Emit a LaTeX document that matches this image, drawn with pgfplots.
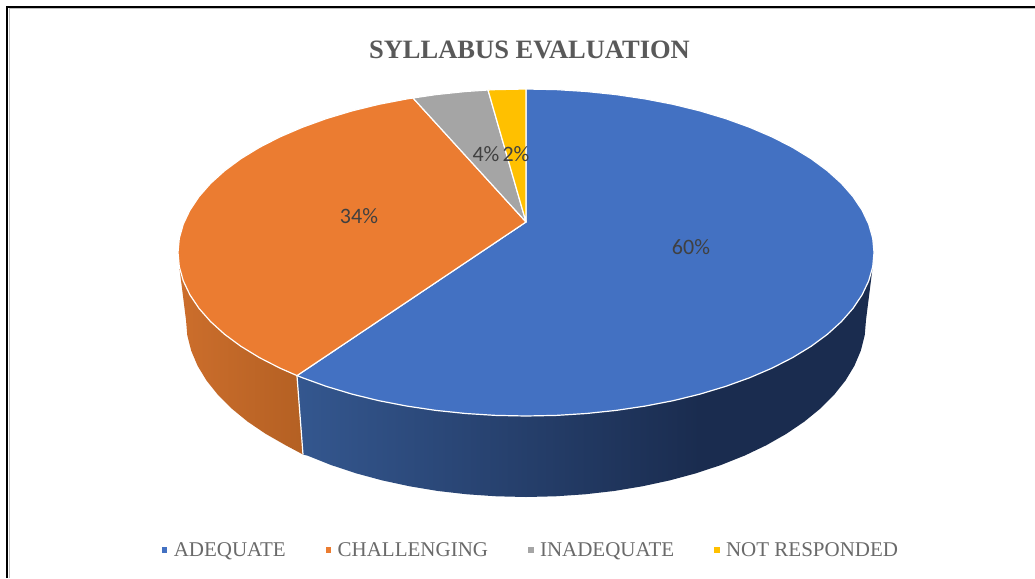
\documentclass[border=0pt]{standalone}
\usepackage{fontspec}
\setmainfont{Liberation Serif}
\newfontfamily\calibri{Carlito}
\usepackage{pgfplots}
\pgfplotsset{compat=1.18}
\definecolor{pieblue}{HTML}{4371C2}
\definecolor{pieorange}{HTML}{EB7C31}
\definecolor{piegray}{HTML}{A5A5A5}
\definecolor{piegold}{HTML}{FFC000}
\definecolor{wallblueA}{HTML}{34578F}
\definecolor{wallblueB}{HTML}{1A2C4F}
\definecolor{wallorangeA}{HTML}{CC6E2C}
\definecolor{wallorangeB}{HTML}{B46023}
\definecolor{titlegray}{HTML}{595959}
\definecolor{labelgray}{HTML}{404040}
\pgfdeclarehorizontalshading{bluewall}{100bp}{color(0bp)=(wallblueA); color(25bp)=(wallblueA); color(60bp)=(wallblueB); color(100bp)=(wallblueB)}
\pgfdeclarehorizontalshading{orangewall}{100bp}{color(0bp)=(wallorangeA); color(25bp)=(wallorangeA); color(75bp)=(wallorangeB); color(100bp)=(wallorangeB)}
\begin{document}
\begin{tikzpicture}
\begin{axis}[
    scale only axis,
    width=1035pt,
    height=578pt,
    xmin=0, xmax=1035,
    ymin=0, ymax=578,
    y dir=reverse,
    axis lines=none,
    clip=true,
    legend columns=4,
    legend style={
        at={(axis cs:531,550)}, anchor=center,
        draw=none, fill=none, inner sep=0pt,
        font=\fontsize{21}{25}\selectfont\color{titlegray!90},
        /tikz/every even column/.append style={column sep=38pt},
        /tikz/every odd column/.append style={column sep=4.5pt},
        nodes={inner xsep=2pt, inner ysep=0pt},
    },
    legend image code/.code={\fill[draw=none,#1] (-2.7pt,-2.7pt) rectangle (2.7pt,2.7pt);},
]
% page and picture frame
\addplot[fill=white, draw=none, forget plot] coordinates {(0,0) (1035,0) (1035,578) (0,578)} -- cycle;
\addplot[gray!50, line width=1pt, forget plot] coordinates {(9,578) (9,9) (1035,9)};
\addplot[black, line width=2.4pt, forget plot] coordinates {(7.2,578) (7.2,7.2) (1035,7.2)};

% side walls
\addplot[draw=none, shade, shading=bluewall, forget plot] coordinates {
    (872.7,266.8) (866,320) (864.7,335.4) (860.8,350.7) (854.4,365.8) (845.5,380.5) (834.1,394.8)
    (820.4,408.5) (804.5,421.5) (786.4,433.8) (766.4,445.2) (744.6,455.6) (721,465) (696,473.3)
    (669.7,480.4) (642.3,486.3) (614,491) (585,494.3) (555.6,496.3) (526,497) (496.4,496.3)
    (467,494.3) (438,491) (409.7,486.3) (382.3,480.4) (356,473.3) (331,465) (307.4,455.6) (303,454.5)
    (297,376) (526,252)
} -- cycle;
\addplot[draw=none, shade, shading=orangewall, forget plot] coordinates {
    (179.3,266.8) (186,320) (187.3,335.4) (191.2,350.7) (197.6,365.8) (206.5,380.5) (217.9,394.8)
    (231.6,408.5) (247.5,421.5) (265.6,433.8) (285.6,445.2) (303,454.5)
    (297,376) (300,300)
} -- cycle;
\addplot[white, line width=1.2pt, forget plot] coordinates {(297,376) (303,454.5)};

% top slices: ADEQUATE 60, CHALLENGING 34, INADEQUATE 4, NOT RESPONDED 2
\addplot[fill=pieblue, draw=white, line width=1.2pt, line join=round, forget plot] coordinates {
    (526,222) (526,89) (556.3,89.6) (586.4,91.5) (616.1,94.6) (645,98.9) (673.1,104.3) (700,110.9)
    (725.6,118.6) (749.7,127.3) (772.1,136.9) (792.6,147.4) (811.1,158.7) (827.4,170.75) (841.4,183.4)
    (853,196.6) (862.1,210.2) (868.7,224.1) (872.7,238.2) (874,252.5) (872.7,266.8) (868.7,280.9)
    (862.1,294.8) (853,308.4) (841.4,321.6) (827.4,334.3) (811.1,346.3) (792.6,357.6) (772.1,368.1)
    (749.7,377.7) (725.6,386.4) (700,394.1) (673.1,400.7) (645,406.1) (616.1,410.4) (586.4,413.5)
    (556.3,415.4) (526,416) (495.7,415.4) (465.6,413.5) (435.9,410.4) (407,406.1) (378.9,400.7)
    (352,394.1) (326.4,386.4) (302.3,377.7) (297,375.6)
} -- cycle;
\addplot[fill=pieorange, draw=white, line width=1.2pt, line join=round, forget plot] coordinates {
    (526,222) (297,375.6) (279.9,368.1) (259.4,357.6) (240.9,346.3) (224.6,334.3) (210.6,321.6)
    (199,308.4) (189.9,294.8) (183.3,280.9) (179.3,266.8) (178,252.5) (179.3,238.2) (183.3,224.1)
    (189.9,210.2) (199,196.6) (210.6,183.4) (224.6,170.75) (240.9,158.7) (259.4,147.4) (279.9,136.9)
    (302.3,127.3) (326.4,118.6) (352,110.9) (378.9,104.3) (407,98.9) (413,98)
} -- cycle;
\addplot[fill=piegray, draw=white, line width=1.2pt, line join=round, forget plot] coordinates {
    (526,222) (413,98) (435.9,94.6) (465.6,91.5) (488,90)
} -- cycle;
\addplot[fill=piegold, draw=white, line width=1.2pt, line join=round, forget plot] coordinates {
    (526,222) (488,90) (495.7,89.6) (526,89)
} -- cycle;

% data labels
\addplot[only marks, mark=none, forget plot, point meta=explicit symbolic,
    nodes near coords,
    nodes near coords style={anchor=center, inner sep=0pt, text=labelgray, font=\calibri\fontsize{22}{26}\selectfont},
] coordinates {
    (691,247) [60\%]
    (359,216) [34\%]
    (486,154) [4\%]
    (516,154) [2\%]
};

% title
\addplot[only marks, mark=none, forget plot, point meta=explicit symbolic,
    nodes near coords,
    nodes near coords style={anchor=center, inner sep=0pt, text=titlegray, font=\bfseries\fontsize{26.5}{30}\selectfont},
] coordinates {(529.5,50) [SYLLABUS EVALUATION]};

\addlegendimage{fill=pieblue}
\addlegendentry{ADEQUATE}
\addlegendimage{fill=pieorange}
\addlegendentry{CHALLENGING}
\addlegendimage{fill=piegray}
\addlegendentry{INADEQUATE}
\addlegendimage{fill=piegold}
\addlegendentry{NOT RESPONDED}
\end{axis}
\end{tikzpicture}
\end{document}
